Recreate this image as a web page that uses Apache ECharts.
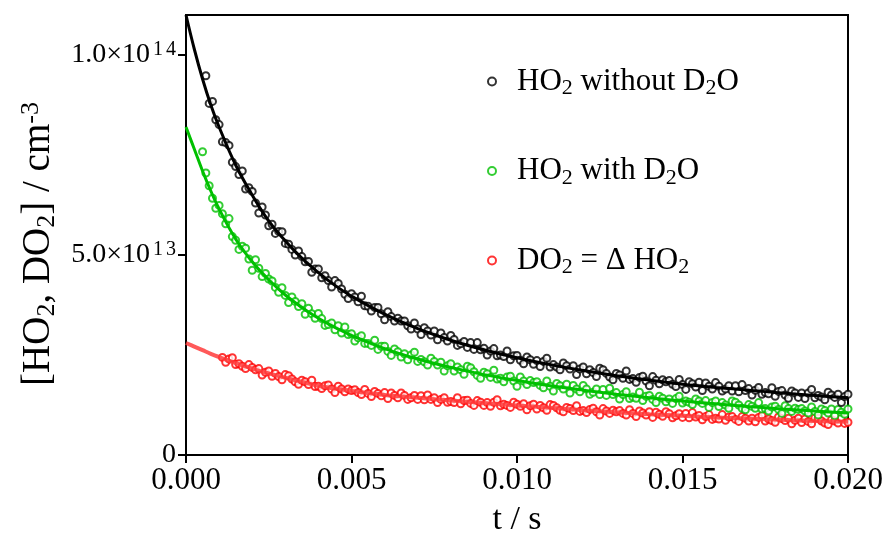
<!DOCTYPE html>
<html><head><meta charset="utf-8">
<script src="https://cdn.jsdelivr.net/npm/echarts@6/dist/echarts.min.js"></script>
<style>html,body{margin:0;padding:0;background:#fff}#c{width:882px;height:541px}</style>
</head><body><div id="c"></div>
<script>
// values in units of 1e12 cm^-3, time in seconds
const UNIT = 1e12;
const SAMPLE_STEP = 0.0001;
const blackStart = 0.0006;
const greenStart = 0.0005;
const redStart = 0.0011;

const blackVals = [
94.8,87.9,88.4,83.8,82.6, 78.3,78.1,77.4,73.2,72.1, 70.1,71.0,66.5,66.8,65.9, 63.0,60.5,62.0,60.0,57.3,
57.7,55.4,55.9,55.8,52.9, 52.7,51.4,50.0,51.0,49.6, 48.3,48.4,45.7,46.5,46.5, 44.3,44.8,43.6,42.0,43.6,
42.9,41.5,40.2,39.1,40.3,
39.5,38.3,39.7,37.3,37.2,36.0,36.9,36.9,35.3,33.8,
35.8,34.6,33.5,34.2,33.5,33.5,32.3,31.5,33.0,31.5,
30.1,31.8,31.0,30.0,31.0,28.8,30.5,29.4,28.5,29.9,
28.9,27.4,27.8,28.4,26.9,28.1,26.4,28.1,26.3,26.7,
25.0,26.0,26.6,24.8,25.0,24.6,26.0,23.8,24.8,24.9,
23.7,22.8,24.5,23.8,22.7,23.6,22.1,23.4,24.2,22.0,
22.6,22.0,21.3,23.0,22.3,21.5,22.3,20.1,21.5,22.0,
20.3,21.3,20.6,19.6,21.7,21.3,20.4,19.5,18.8,20.4,
20.0,19.2,21.0,18.9,19.1,18.2,19.4,19.7,18.5,17.3,
19.6,18.7,17.8,18.8,18.3,18.6,17.7,17.1,18.9,17.6,
16.4,18.3,17.8,17.0,18.2,16.1,18.0,17.2,16.5,18.1,
17.2,16.0,16.5,17.3,16.0,17.3,15.8,17.6,16.1,16.6,
15.0,16.2,16.9,15.2,15.6,15.3,16.8,14.7,15.9,16.1,
15.0,14.2,16.0,15.5,14.4,15.5,14.1,15.5,16.4,14.3,
14.9,14.5,13.8,15.7,15.0,14.4,15.2,13.1,14.6,15.2
];

const greenVals = [
75.8,
70.5,67.3,64.2,61.7,62.4, 60.3,57.8,59.1,54.6,53.7, 51.4,52.2,51.7,49.0,46.2, 48.8,46.7,44.6,45.4,44.0,
43.5,41.9,40.7,41.8,39.9, 38.1,39.5,38.4,37.1,37.8, 35.2,36.7,35.3,34.2,35.4, 34.1,32.4,32.6,33.0,31.3,
32.3,30.5,32.0,30.1,30.3,
28.5,29.3,29.8,27.9,27.9,27.4,28.7,26.4,27.2,27.2,
25.9,24.9,26.5,25.8,24.5,25.3,23.8,25.0,25.7,23.4,
23.9,23.3,22.5,24.2,23.4,22.5,23.2,21.0,22.3,22.8,
21.0,22.0,21.3,20.2,22.2,21.8,20.8,19.9,19.2,20.7,
20.3,19.4,21.2,19.0,19.2,18.3,19.5,19.7,18.5,17.2,
19.5,18.5,17.6,18.6,18.1,18.3,17.4,16.8,18.5,17.2,
16.0,17.9,17.3,16.5,17.7,15.5,17.4,16.5,15.8,17.4,
16.5,15.2,15.7,16.5,15.1,16.4,14.9,16.7,15.1,15.6,
14.0,15.1,15.8,14.1,14.5,14.2,15.7,13.6,14.7,14.9,
13.9,13.1,14.7,14.2,13.3,14.0,12.9,14.1,14.7,13.0,
13.5,13.2,12.6,14.0,13.5,12.9,13.6,11.9,13.1,13.5,
12.1,13.1,12.5,11.7,13.5,13.2,12.5,11.7,11.3,12.6,
12.2,11.7,13.1,11.5,11.6,11.0,12.0,12.2,11.4,10.4,
12.3,11.6,10.9,11.7,11.4,11.6,11.0,10.5,12.0,10.9,
10.0,11.5,11.1,10.5,11.5,9.8,11.4,10.7,10.2,11.5
];

const redVals = [
24.4,23.2,24.0,24.3,22.6, 22.8,22.2,21.6,22.6,21.9, 21.3,21.6,20.0,20.7,21.0, 19.7,20.4,19.6,18.8,20.1,
19.8,19.0,18.3,17.7,18.7, 18.3,17.6,18.7,17.1,17.2, 16.6,17.3,17.5,16.5,15.6, 17.2,16.5,15.8,16.5,16.1,
16.3,15.6,15.1,16.4,15.4,14.6,15.9,15.4,14.8,15.6,
14.1,15.5,14.9,14.3,15.5,14.9,13.9,14.3,14.9,13.9,
14.8,13.8,15.0,13.9,14.3,13.1,13.9,14.3,13.2,13.4,
13.1,14.3,12.8,13.6,13.7,12.9,12.4,13.6,13.2,12.4,
13.1,12.2,13.2,13.8,12.3,12.7,12.4,11.9,13.2,12.7,
12.2,12.8,11.3,12.3,12.7,11.5,12.4,11.8,11.2,12.6,
12.4,11.8,11.2,10.8,11.9,11.6,11.1,12.3,10.9,11.1,
10.6,11.4,11.7,10.8,10.0,11.6,11.0,10.4,11.2,10.8,
11.1,10.4,10.0,11.3,10.4,9.6,11.0,10.5,10.0,10.8,
9.4,10.7,10.2,9.7,10.8,10.3,9.3,9.8,10.3,9.4,
10.4,9.3,10.6,9.5,9.9,8.8,9.6,10.1,8.9,9.2,
9.0,10.1,8.7,9.5,9.6,8.9,8.4,9.6,9.2,8.5,
9.2,8.3,9.4,9.9,8.5,9.0,8.6,8.2,9.5,9.1,
8.6,9.2,7.8,8.7,9.2,8.1,9.0,8.4,7.8,9.3,
9.2,8.5,8.0,7.6,8.8,8.5,8.0,9.3,7.9,8.2
];

// fitted curves (time in ms)
const fitTimeMs = [0,0.25,0.5,0.75,1,1.5,2,2.5,3,3.5,4,4.5,5,6,7,8,9,10,11,12,13,14,15,16,17,18,19,20];
const blackFit = [110,101.5,94,87.5,82,72.5,65,58.5,53.5,49.2,45.6,42.4,39.7,35.2,31.6,28.7,26.3,24.3,22.6,21.1,19.8,18.7,17.7,16.9,16.2,15.5,14.9,14.3];
const greenFit = [82,76.5,71,66,61.5,54,48.3,43.8,40,36.9,34.2,31.9,29.9,26.6,24.0,21.9,20.1,18.6,17.3,16.2,15.2,14.3,13.5,12.8,12.1,11.5,11.0,10.5];
const redFit = [28,27.1,26.2,25.3,24.5,23,21.6,20.4,19.3,18.3,17.3,16.6,16.0,15.0,14.3,13.6,13.0,12.4,11.8,11.2,10.7,10.2,9.8,9.4,9.1,8.8,8.5,8.3];

const xTicks = [0, 0.005, 0.010, 0.015, 0.020];
const yTicks = [0, 5e13, 1e14];
const yTickLabels = ['{m|0}', '{m|5.0×10}{e|1}{e|3}', '{m|1.0×10}{e|1}{e|4}'];

const names = ['HO2 without D2O', 'HO2 with D2O', 'DO2 = Δ HO2'];
const legendRich = {
  'HO2 without D2O': '{n|HO}{s|2}{n| without D}{s|2}{n|O}',
  'HO2 with D2O': '{n|HO}{s|2}{n| with D}{s|2}{n|O}',
  'DO2 = Δ HO2': '{n|DO}{s|2}{n| = Δ HO}{s|2}'
};
const colors = ['#000000', '#00c000', '#ff0000'];
const lineColors = ['#000000', '#00c000', 'rgba(255,60,60,0.85)'];

const toPts = (vals, start) => vals.map((v, i) => [+(start + i * SAMPLE_STEP).toFixed(5), v * UNIT]);
const toFit = (vals) => vals.map((v, i) => [fitTimeMs[i] / 1000, v * UNIT]);

const FONT = 'Liberation Serif';
const chart = echarts.init(document.getElementById('c'));
const scatterData = [toPts(blackVals, blackStart), toPts(greenVals, greenStart), toPts(redVals, redStart)];
const fitData = [toFit(blackFit), toFit(greenFit), toFit(redFit)];

const series = [];
[2, 1, 0].forEach(k => {
  series.push({
    name: names[k], type: 'scatter', data: scatterData[k], symbol: 'emptyCircle', symbolSize: 7,
    itemStyle: { color: colors[k], borderColor: colors[k], borderWidth: 1.2 }, z: 2, silent: true
  });
});
[2, 1, 0].forEach(k => {
  series.push({
    name: names[k] + ' fit', type: 'line', data: fitData[k], smooth: 0.4, showSymbol: false,
    lineStyle: { color: lineColors[k], width: k === 2 ? 4 : 3 }, z: 3, silent: true
  });
});

chart.setOption({
  animation: false,
  backgroundColor: '#fff',
  grid: { left: 186, right: 34, top: 15, bottom: 86, outerBoundsMode: 'none', containLabel: false,
          show: true, borderColor: '#000', borderWidth: 2, backgroundColor: 'transparent' },
  legend: {
    data: names.map(n => ({ name: n, icon: 'emptyCircle' })),
    orient: 'vertical', left: 482, top: 61, itemWidth: 40, itemHeight: 8, itemGap: 56,
    selectedMode: false,
    formatter: n => legendRich[n],
    textStyle: {
      color: '#000', fontFamily: FONT, fontSize: 31,
      rich: {
        n: { fontFamily: FONT, fontSize: 31, lineHeight: 36, color: '#000' },
        s: { fontFamily: FONT, fontSize: 22, lineHeight: 19, verticalAlign: 'bottom', color: '#000' }
      }
    }
  },
  xAxis: {
    type: 'value', min: 0, max: 0.02, interval: 0.005,
    name: 't / s', nameLocation: 'middle', nameGap: 48,
    nameTextStyle: { fontFamily: FONT, fontSize: 34, color: '#000' },
    axisLine: { show: true, lineStyle: { color: '#000', width: 2 } },
    axisTick: { show: true, inside: false, length: 8, lineStyle: { color: '#000', width: 2 } },
    axisLabel: { margin: 10, color: '#000', fontFamily: FONT, fontSize: 31, formatter: v => v.toFixed(3) },
    splitLine: { show: false }
  },
  yAxis: {
    type: 'value', min: 0, max: 1.1e14, interval: 5e13,
    name: '{n|[HO}{s|2}{n|, DO}{s|2}{n|] / cm}{p|-3}', nameLocation: 'middle', nameGap: 126, nameRotate: 90,
    nameTextStyle: {
      fontFamily: FONT, fontSize: 39, color: '#000', padding: [0, 18, 0, 0],
      rich: {
        n: { fontFamily: FONT, fontSize: 39, lineHeight: 42, color: '#000' },
        s: { fontFamily: FONT, fontSize: 26, lineHeight: 23, verticalAlign: 'bottom', color: '#000' },
        p: { fontFamily: FONT, fontSize: 26, lineHeight: 23, verticalAlign: 'top', color: '#000' }
      }
    },
    axisLine: { show: true, lineStyle: { color: '#000', width: 2 } },
    axisTick: { show: true, inside: false, length: 8, customValues: yTicks, lineStyle: { color: '#000', width: 2 } },
    axisLabel: {
      margin: 10, color: '#000', fontFamily: FONT, fontSize: 28,
      customValues: yTicks,
      formatter: v => { const i = yTicks.indexOf(v); return i >= 0 ? yTickLabels[i] : ''; },
      rich: {
        m: { fontFamily: FONT, fontSize: 28, lineHeight: 30, color: '#000' },
        e: { fontFamily: FONT, fontSize: 20, lineHeight: 16, verticalAlign: 'top', padding: [0, 0, 0, 3], color: '#000' }
      }
    },
    splitLine: { show: false }
  },
  series: series
});
</script>
</body></html>
